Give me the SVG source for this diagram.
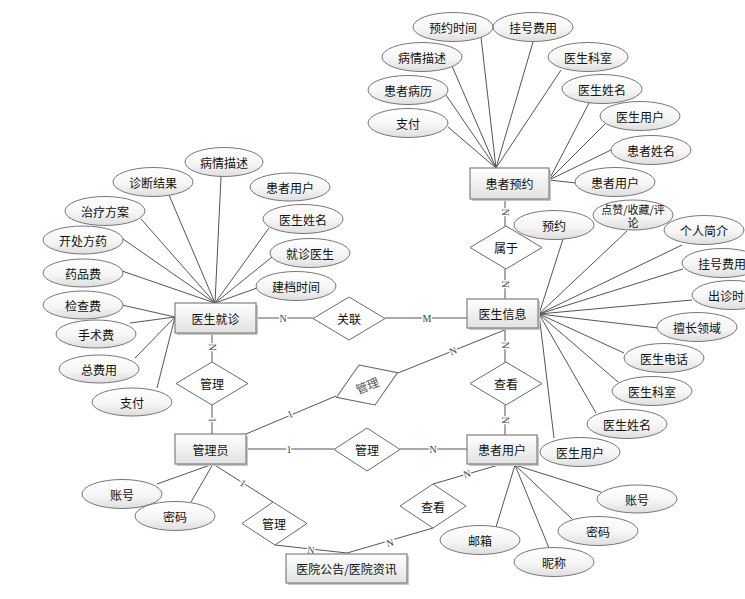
<svg xmlns="http://www.w3.org/2000/svg" width="745" height="599" viewBox="0 0 745 599">
<defs>
<linearGradient id="eg" x1="0" y1="0" x2="0" y2="1">
<stop offset="0" stop-color="#ffffff"/><stop offset="0.55" stop-color="#f6f6f6"/><stop offset="1" stop-color="#dedede"/>
</linearGradient>
<linearGradient id="rg" x1="0" y1="0" x2="0" y2="1">
<stop offset="0" stop-color="#ffffff"/><stop offset="1" stop-color="#e2e2e2"/>
</linearGradient>
<style>
.e{fill:url(#eg);stroke:#777;stroke-width:1}
.r{fill:url(#rg);stroke:#808080;stroke-width:1.2}
.sh{fill:#c8c8c8}
.d{fill:#fff;stroke:#6a6a6a;stroke-width:1}
.t{font-family:"Noto Sans CJK SC","Noto Sans",sans-serif;font-size:12px;fill:#111;text-anchor:middle;dominant-baseline:central}
.s{font-size:11px;dominant-baseline:auto}
.l{stroke:#555;stroke-width:1;fill:none}
.lb{font-family:"Liberation Serif",serif;font-size:10px;fill:#444;text-anchor:middle;dominant-baseline:central;stroke:#fff;stroke-width:3;paint-order:stroke}
</style>
</defs>
<rect width="745" height="599" fill="#fff"/>

<g id="connectors">
<line class="l" x1="448" y1="127" x2="496" y2="168"/>
<line class="l" x1="446" y1="95" x2="496" y2="168"/>
<line class="l" x1="452" y1="66" x2="496" y2="168"/>
<line class="l" x1="481" y1="37" x2="496" y2="168"/>
<line class="l" x1="533" y1="42" x2="496" y2="168"/>
<line class="l" x1="561" y1="70" x2="496" y2="168"/>
<line class="l" x1="589" y1="103" x2="549" y2="180"/>
<line class="l" x1="605" y1="124" x2="549" y2="180"/>
<line class="l" x1="611" y1="150" x2="549" y2="180"/>
<line class="l" x1="576" y1="183" x2="549" y2="180"/>
<line class="l" x1="563" y1="239" x2="539" y2="314"/>
<line class="l" x1="627" y1="231" x2="539" y2="314"/>
<line class="l" x1="682" y1="245" x2="539" y2="314"/>
<line class="l" x1="683" y1="269" x2="539" y2="314"/>
<line class="l" x1="692" y1="300" x2="539" y2="314"/>
<line class="l" x1="658" y1="328" x2="539" y2="314"/>
<line class="l" x1="624" y1="353" x2="539" y2="314"/>
<line class="l" x1="618" y1="382" x2="539" y2="314"/>
<line class="l" x1="596" y1="413" x2="539" y2="314"/>
<line class="l" x1="554" y1="438" x2="539" y2="314"/>
<line class="l" x1="221" y1="177" x2="215" y2="303"/>
<line class="l" x1="169" y1="195" x2="215" y2="303"/>
<line class="l" x1="141" y1="219" x2="215" y2="303"/>
<line class="l" x1="269" y1="228" x2="215" y2="303"/>
<line class="l" x1="123" y1="239" x2="215" y2="303"/>
<line class="l" x1="272" y1="257" x2="215" y2="303"/>
<line class="l" x1="122" y1="271" x2="215" y2="303"/>
<line class="l" x1="257" y1="288" x2="215" y2="303"/>
<line class="l" x1="122" y1="305" x2="175" y2="317"/>
<line class="l" x1="130" y1="323" x2="175" y2="317"/>
<line class="l" x1="135" y1="358" x2="175" y2="317"/>
<line class="l" x1="157" y1="388" x2="175" y2="317"/>
<line class="l" x1="601" y1="492" x2="515" y2="465"/>
<line class="l" x1="572" y1="519" x2="515" y2="465"/>
<line class="l" x1="549" y1="548" x2="515" y2="465"/>
<line class="l" x1="496" y1="527" x2="515" y2="465"/>
<line class="l" x1="157" y1="484" x2="213" y2="464"/>
<line class="l" x1="191" y1="502" x2="213" y2="464"/>
<line class="l" x1="505" y1="199" x2="505" y2="226"/>
<line class="l" x1="505" y1="269" x2="505" y2="299"/>
<line class="l" x1="505" y1="328" x2="505" y2="362"/>
<line class="l" x1="505" y1="405" x2="505" y2="435"/>
<line class="l" x1="256" y1="318" x2="313" y2="318"/>
<line class="l" x1="385" y1="318" x2="467" y2="318"/>
<line class="l" x1="212" y1="333" x2="212" y2="362"/>
<line class="l" x1="212" y1="405" x2="212" y2="434"/>
<line class="l" x1="246" y1="434" x2="336" y2="396"/>
<line class="l" x1="398" y1="373" x2="507" y2="329"/>
<line class="l" x1="246" y1="449" x2="334" y2="449"/>
<line class="l" x1="400" y1="449" x2="467" y2="449"/>
<line class="l" x1="213" y1="464" x2="273" y2="502"/>
<line class="l" x1="275" y1="545" x2="347" y2="553"/>
<line class="l" x1="502" y1="464" x2="433" y2="484"/>
<line class="l" x1="433" y1="528" x2="347" y2="553"/>
<text class="lb" transform="translate(505,212) rotate(90)">N</text>
<text class="lb" transform="translate(505,284) rotate(90)">N</text>
<text class="lb" transform="translate(505,345) rotate(90)">N</text>
<text class="lb" transform="translate(505,420) rotate(90)">N</text>
<text class="lb" x="283" y="318">N</text>
<text class="lb" x="427" y="318">M</text>
<text class="lb" transform="translate(212,347) rotate(90)">N</text>
<text class="lb" transform="translate(212,420) rotate(90)">1</text>
<text class="lb" transform="translate(290,414) rotate(-22)">1</text>
<text class="lb" transform="translate(453,351) rotate(-22)">N</text>
<text class="lb" x="289" y="449">1</text>
<text class="lb" x="433" y="449">N</text>
<text class="lb" transform="translate(243,483) rotate(32)">1</text>
<text class="lb" transform="translate(311,550) rotate(6)">N</text>
<text class="lb" transform="translate(467,474) rotate(-16)">N</text>
<text class="lb" transform="translate(390,543) rotate(-16)">N</text>
</g>

<g id="n_huanzheyuyue"><rect class="sh" x="472" y="170" width="79" height="31"/><rect class="r" x="470" y="168" width="79" height="31"/><text class="t" x="509.5" y="183.5">患者预约</text></g>
<g id="n_yishengxinxi"><rect class="sh" x="469" y="301" width="71" height="29"/><rect class="r" x="467" y="299" width="71" height="29"/><text class="t" x="502.5" y="313.5">医生信息</text></g>
<g id="n_huanzheyonghu"><rect class="sh" x="469" y="437" width="70" height="29"/><rect class="r" x="467" y="435" width="70" height="29"/><text class="t" x="502" y="449.5">患者用户</text></g>
<g id="n_yishengjiuzhen"><rect class="sh" x="177" y="305" width="81" height="30"/><rect class="r" x="175" y="303" width="81" height="30"/><text class="t" x="215.5" y="318">医生就诊</text></g>
<g id="n_guanliyuan"><rect class="sh" x="177" y="436" width="71" height="30"/><rect class="r" x="175" y="434" width="71" height="30"/><text class="t" x="210.5" y="449">管理员</text></g>
<g id="n_gonggao"><rect class="sh" x="288" y="556" width="121" height="29"/><rect class="r" x="286" y="554" width="121" height="29"/><text class="t" x="346.5" y="568.5">医院公告/医院资讯</text></g>

<g id="r_shuyu"><polygon class="d" points="506,226 542,247.5 506,269 470,247.5"/><text class="t" x="506" y="247.5">属于</text></g>
<g id="r_chakan1"><polygon class="d" points="506,362 542,383.5 506,405 470,383.5"/><text class="t" x="506" y="383.5">查看</text></g>
<g id="r_guanlian"><polygon class="d" points="349,297 385,318.5 349,340 313,318.5"/><text class="t" x="349" y="318.5">关联</text></g>
<g id="r_guanli1"><polygon class="d" points="212,362 248,383.5 212,405 176,383.5"/><text class="t" x="212" y="383.5">管理</text></g>
<g id="r_guanli2" transform="translate(367,385) rotate(-22)"><polygon class="d" points="0,-21.5 33,0 0,21.5 -33,0"/><text class="t" x="0" y="0" style="fill:#555">管理</text></g>
<g id="r_guanli3"><polygon class="d" points="367,428 400,449.5 367,471 334,449.5"/><text class="t" x="367" y="449.5">管理</text></g>
<g id="r_guanli4"><polygon class="d" points="273,502 307,523.5 275,545 242,523.5"/><text class="t" x="274" y="523.5">管理</text></g>
<g id="r_chakan2"><polygon class="d" points="433,484 466,506 433,528 400,506"/><text class="t" x="433" y="506">查看</text></g>

<g id="a_yy1"><ellipse class="e" cx="453" cy="27" rx="40" ry="14.5"/><text class="t" x="453" y="27">预约时间</text></g>
<g id="a_yy2"><ellipse class="e" cx="533" cy="27" rx="40" ry="14.5"/><text class="t" x="533" y="27">挂号费用</text></g>
<g id="a_yy3"><ellipse class="e" cx="422" cy="57" rx="40" ry="14.5"/><text class="t" x="422" y="57">病情描述</text></g>
<g id="a_yy4"><ellipse class="e" cx="408" cy="90" rx="40" ry="14.5"/><text class="t" x="408" y="90">患者病历</text></g>
<g id="a_yy5"><ellipse class="e" cx="408" cy="123" rx="40" ry="14.5"/><text class="t" x="408" y="123">支付</text></g>
<g id="a_yy6"><ellipse class="e" cx="588" cy="57" rx="40" ry="14.5"/><text class="t" x="588" y="57">医生科室</text></g>
<g id="a_yy7"><ellipse class="e" cx="602" cy="89" rx="40" ry="14.5"/><text class="t" x="602" y="89">医生姓名</text></g>
<g id="a_yy8"><ellipse class="e" cx="640" cy="116" rx="40" ry="14.5"/><text class="t" x="640" y="116">医生用户</text></g>
<g id="a_yy9"><ellipse class="e" cx="651" cy="150" rx="40" ry="14.5"/><text class="t" x="651" y="150">患者姓名</text></g>
<g id="a_yy10"><ellipse class="e" cx="615" cy="182" rx="40" ry="14.5"/><text class="t" x="615" y="182">患者用户</text></g>

<g id="a_xx1"><ellipse class="e" cx="554" cy="225" rx="40" ry="14.5"/><text class="t" x="554" y="225">预约</text></g>
<g id="a_xx2"><ellipse class="e" cx="633" cy="215" rx="40" ry="15"/><text class="t s" x="633" y="213"><tspan x="633" y="213.5">点赞/收藏/评</tspan><tspan x="633" y="227">论</tspan></text></g>
<g id="a_xx3"><ellipse class="e" cx="704" cy="230" rx="40" ry="14.5"/><text class="t" x="704" y="230">个人简介</text></g>
<g id="a_xx4"><ellipse class="e" cx="722" cy="263" rx="40" ry="14.5"/><text class="t" x="722" y="263">挂号费用</text></g>
<g id="a_xx5"><ellipse class="e" cx="732" cy="295" rx="40" ry="14.5"/><text class="t" x="732" y="295">出诊时间</text></g>
<g id="a_xx6"><ellipse class="e" cx="697" cy="327" rx="40" ry="14.5"/><text class="t" x="697" y="327">擅长领域</text></g>
<g id="a_xx7"><ellipse class="e" cx="664" cy="358" rx="40" ry="14.5"/><text class="t" x="664" y="358">医生电话</text></g>
<g id="a_xx8"><ellipse class="e" cx="652" cy="391" rx="40" ry="14.5"/><text class="t" x="652" y="391">医生科室</text></g>
<g id="a_xx9"><ellipse class="e" cx="627" cy="424" rx="40" ry="14.5"/><text class="t" x="627" y="424">医生姓名</text></g>
<g id="a_xx10"><ellipse class="e" cx="580" cy="452" rx="40" ry="14.5"/><text class="t" x="580" y="452">医生用户</text></g>

<g id="a_jz1"><ellipse class="e" cx="224" cy="162" rx="39" ry="14.5"/><text class="t" x="224" y="162">病情描述</text></g>
<g id="a_jz2"><ellipse class="e" cx="153" cy="182" rx="40" ry="14.5"/><text class="t" x="153" y="182">诊断结果</text></g>
<g id="a_jz3"><ellipse class="e" cx="290" cy="187" rx="40" ry="14"/><text class="t" x="290" y="187">患者用户</text></g>
<g id="a_jz4"><ellipse class="e" cx="105" cy="211" rx="40" ry="14.5"/><text class="t" x="105" y="211">治疗方案</text></g>
<g id="a_jz5"><ellipse class="e" cx="303" cy="219" rx="40" ry="14.5"/><text class="t" x="303" y="219">医生姓名</text></g>
<g id="a_jz6"><ellipse class="e" cx="83" cy="240" rx="40" ry="14"/><text class="t" x="83" y="240">开处方药</text></g>
<g id="a_jz7"><ellipse class="e" cx="310" cy="253" rx="40" ry="14.5"/><text class="t" x="310" y="253">就诊医生</text></g>
<g id="a_jz8"><ellipse class="e" cx="83" cy="273" rx="40" ry="14"/><text class="t" x="83" y="273">药品费</text></g>
<g id="a_jz9"><ellipse class="e" cx="296" cy="286" rx="40" ry="14.5"/><text class="t" x="296" y="286">建档时间</text></g>
<g id="a_jz10"><ellipse class="e" cx="83" cy="305" rx="40" ry="14"/><text class="t" x="83" y="305">检查费</text></g>
<g id="a_jz11"><ellipse class="e" cx="96" cy="334" rx="40" ry="14"/><text class="t" x="96" y="334">手术费</text></g>
<g id="a_jz12"><ellipse class="e" cx="99" cy="369" rx="40" ry="14"/><text class="t" x="99" y="369">总费用</text></g>
<g id="a_jz13"><ellipse class="e" cx="132" cy="402" rx="40" ry="14"/><text class="t" x="132" y="402">支付</text></g>

<g id="a_hz1"><ellipse class="e" cx="637" cy="499" rx="40" ry="14"/><text class="t" x="637" y="499">账号</text></g>
<g id="a_hz2"><ellipse class="e" cx="598" cy="531" rx="40" ry="14.5"/><text class="t" x="598" y="531">密码</text></g>
<g id="a_hz3"><ellipse class="e" cx="554" cy="562" rx="40" ry="14.5"/><text class="t" x="554" y="562">昵称</text></g>
<g id="a_hz4"><ellipse class="e" cx="480" cy="540" rx="40" ry="14.5"/><text class="t" x="480" y="540">邮箱</text></g>

<g id="a_gl1"><ellipse class="e" cx="122" cy="494" rx="40" ry="14.5"/><text class="t" x="122" y="494">账号</text></g>
<g id="a_gl2"><ellipse class="e" cx="175" cy="516" rx="40" ry="14.5"/><text class="t" x="175" y="516">密码</text></g>
</svg>
